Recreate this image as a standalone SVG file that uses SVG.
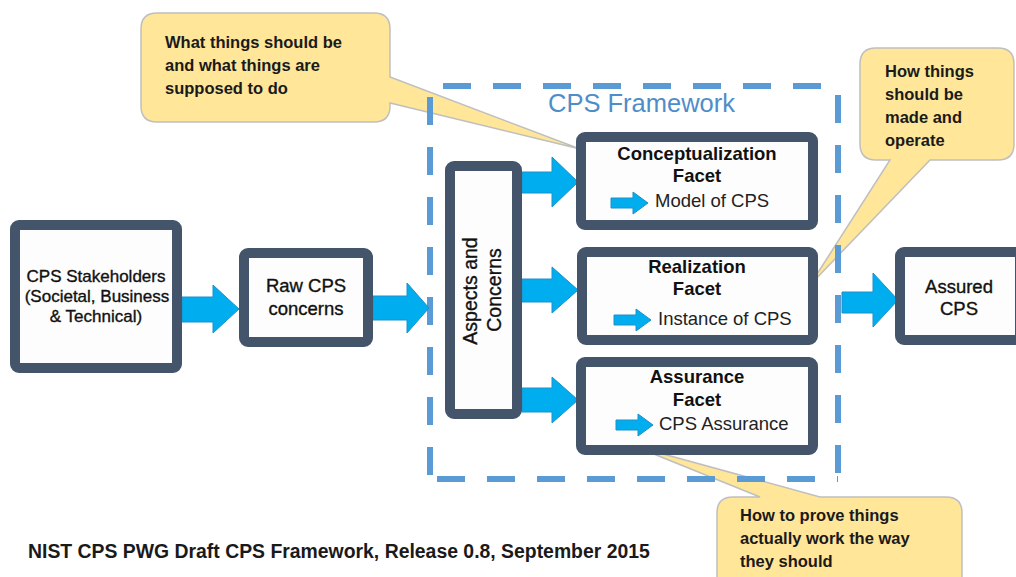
<svg xmlns="http://www.w3.org/2000/svg" width="1016" height="577" viewBox="0 0 1016 577">
<style>
.box{fill:#FDFDFD;stroke:#44546A;stroke-width:10;}
.arr{fill:#00AEEF;stroke:#1F8FC8;stroke-width:1;}
.lbl{font-family:"Liberation Sans",Arial,sans-serif;fill:#111;stroke:#111;stroke-width:0.35;text-anchor:middle;}
.ttl{font-family:"Liberation Sans",Arial,sans-serif;font-weight:bold;fill:#111;text-anchor:middle;font-size:18.5px;}
.sub{font-family:"Liberation Sans",Arial,sans-serif;fill:#222;font-size:18.5px;}
.call{fill:#FFE699;stroke:#BFBFBF;stroke-width:1.5;}
.ctxt{font-family:"Liberation Sans",Arial,sans-serif;font-weight:bold;fill:#1a1a1a;font-size:16.5px;}
.dash{fill:none;stroke:#5B9BD5;stroke-width:6;stroke-dasharray:28 22;}
</style>
<rect width="1016" height="577" fill="#FFFFFF"/>

<g id="callout-what">
<path class="call" d="M157,13 H374 Q390,13 390,29 V77 L580,149 L390,103 V106 Q390,122 374,122 H157 Q141,122 141,106 V29 Q141,13 157,13 Z"/>
<text class="ctxt" x="165" y="48">What things should be</text>
<text class="ctxt" x="165" y="71">and what things are</text>
<text class="ctxt" x="165" y="94">supposed to do</text>
</g>
<g id="callout-how">
<path class="call" d="M876,48 H998 Q1014,48 1014,64 V144 Q1014,160 998,160 H930 L810,285 L890,160 H876 Q860,160 860,144 V64 Q860,48 876,48 Z"/>
<text class="ctxt" x="885" y="77">How things</text>
<text class="ctxt" x="885" y="100">should be</text>
<text class="ctxt" x="885" y="123">made and</text>
<text class="ctxt" x="885" y="146">operate</text>
</g>
<g id="callout-prove">
<path class="call" d="M733,497 H760 L634,446 L820,497 H946 Q962,497 962,513 V590 H717 V513 Q717,497 733,497 Z"/>
<text class="ctxt" x="740" y="521">How to prove things</text>
<text class="ctxt" x="740" y="544">actually work the way</text>
<text class="ctxt" x="740" y="567">they should</text>
</g>

<g id="cps-framework">
<path class="dash" d="M430,86 H838" stroke-dashoffset="37"/>
<path class="dash" d="M430,479 H838" stroke-dashoffset="43"/>
<path class="dash" d="M430,86 V479" stroke-dashoffset="39"/>
<path class="dash" d="M838,86 V479" stroke-dashoffset="41"/>
<text x="548" y="112" font-family="Liberation Sans, Arial, sans-serif" font-size="25.5" fill="#4F8DC9">CPS Framework</text>
</g>

<g id="connectors">
<polygon class="arr" points="182,297 213,297 213,285 239,309 213,333 213,322 182,322"/>
<polygon class="arr" points="373,296 407,296 407,283 429,308 407,333 407,320 373,320"/>
<polygon class="arr" points="522,172 552,172 552,157 578,182 552,207 552,193 522,193"/>
<polygon class="arr" points="522,279 552,279 552,267 578,290 552,313 552,302 522,302"/>
<polygon class="arr" points="522,388 552,388 552,377 578,400 552,423 552,412 522,412"/>
<polygon class="arr" points="842,292 873,292 873,273 898,300 873,327 873,313 842,313"/>
</g>

<g id="stakeholders">
<rect class="box" x="15" y="225" width="162" height="143" rx="4"/>
<text class="lbl" font-size="17" x="96" y="282">CPS Stakeholders</text>
<text class="lbl" font-size="17" x="97" y="302">(Societal, Business</text>
<text class="lbl" font-size="17" x="96" y="322">&amp; Technical)</text>
</g>

<g id="raw-concerns">
<rect class="box" x="244" y="253" width="124" height="89" rx="4"/>
<text class="lbl" font-size="18.5" x="306" y="292">Raw CPS</text>
<text class="lbl" font-size="18.5" x="306" y="315">concerns</text>
</g>

<g id="aspects">
<rect class="box" x="450" y="166" width="67" height="248" rx="4"/>
<text class="lbl" font-size="19.5" transform="translate(477,291) rotate(-90)">Aspects and</text>
<text class="lbl" font-size="19.5" transform="translate(501,290) rotate(-90)">Concerns</text>
</g>

<g id="conceptualization">
<rect class="box" x="581" y="137" width="232" height="88" rx="4"/>
<text class="ttl" x="697" y="160">Conceptualization</text>
<text class="ttl" x="697" y="182">Facet</text>
<polygon class="arr" points="611,198 633,198 633,192 648,203 633,214 633,208 611,208"/>
<text class="sub" x="655" y="207">Model of CPS</text>
</g>

<g id="realization">
<rect class="box" x="582" y="252" width="231" height="88" rx="4"/>
<text class="ttl" x="697" y="273">Realization</text>
<text class="ttl" x="697" y="295">Facet</text>
<polygon class="arr" points="614,315 636,315 636,309 651,320 636,331 636,325 614,325"/>
<text class="sub" x="658" y="325">Instance of CPS</text>
</g>

<g id="assurance">
<rect class="box" x="581" y="362" width="232" height="88" rx="4"/>
<text class="ttl" x="697" y="383">Assurance</text>
<text class="ttl" x="697" y="406">Facet</text>
<polygon class="arr" points="616,420 638,420 638,414 653,425 638,436 638,430 616,430"/>
<text class="sub" x="659" y="430">CPS Assurance</text>
</g>

<g id="assured-cps">
<rect class="box" x="900" y="252" width="120" height="88" rx="4"/>
<text class="lbl" font-size="18.5" x="959" y="293">Assured</text>
<text class="lbl" font-size="18.5" x="959" y="315">CPS</text>
</g>

<g id="footer">
<text x="28" y="558" font-family="Liberation Sans, Arial, sans-serif" font-weight="bold" font-size="19.4" fill="#1a1a1a">NIST CPS PWG Draft CPS Framework, Release 0.8, September 2015</text>
</g>
</svg>
